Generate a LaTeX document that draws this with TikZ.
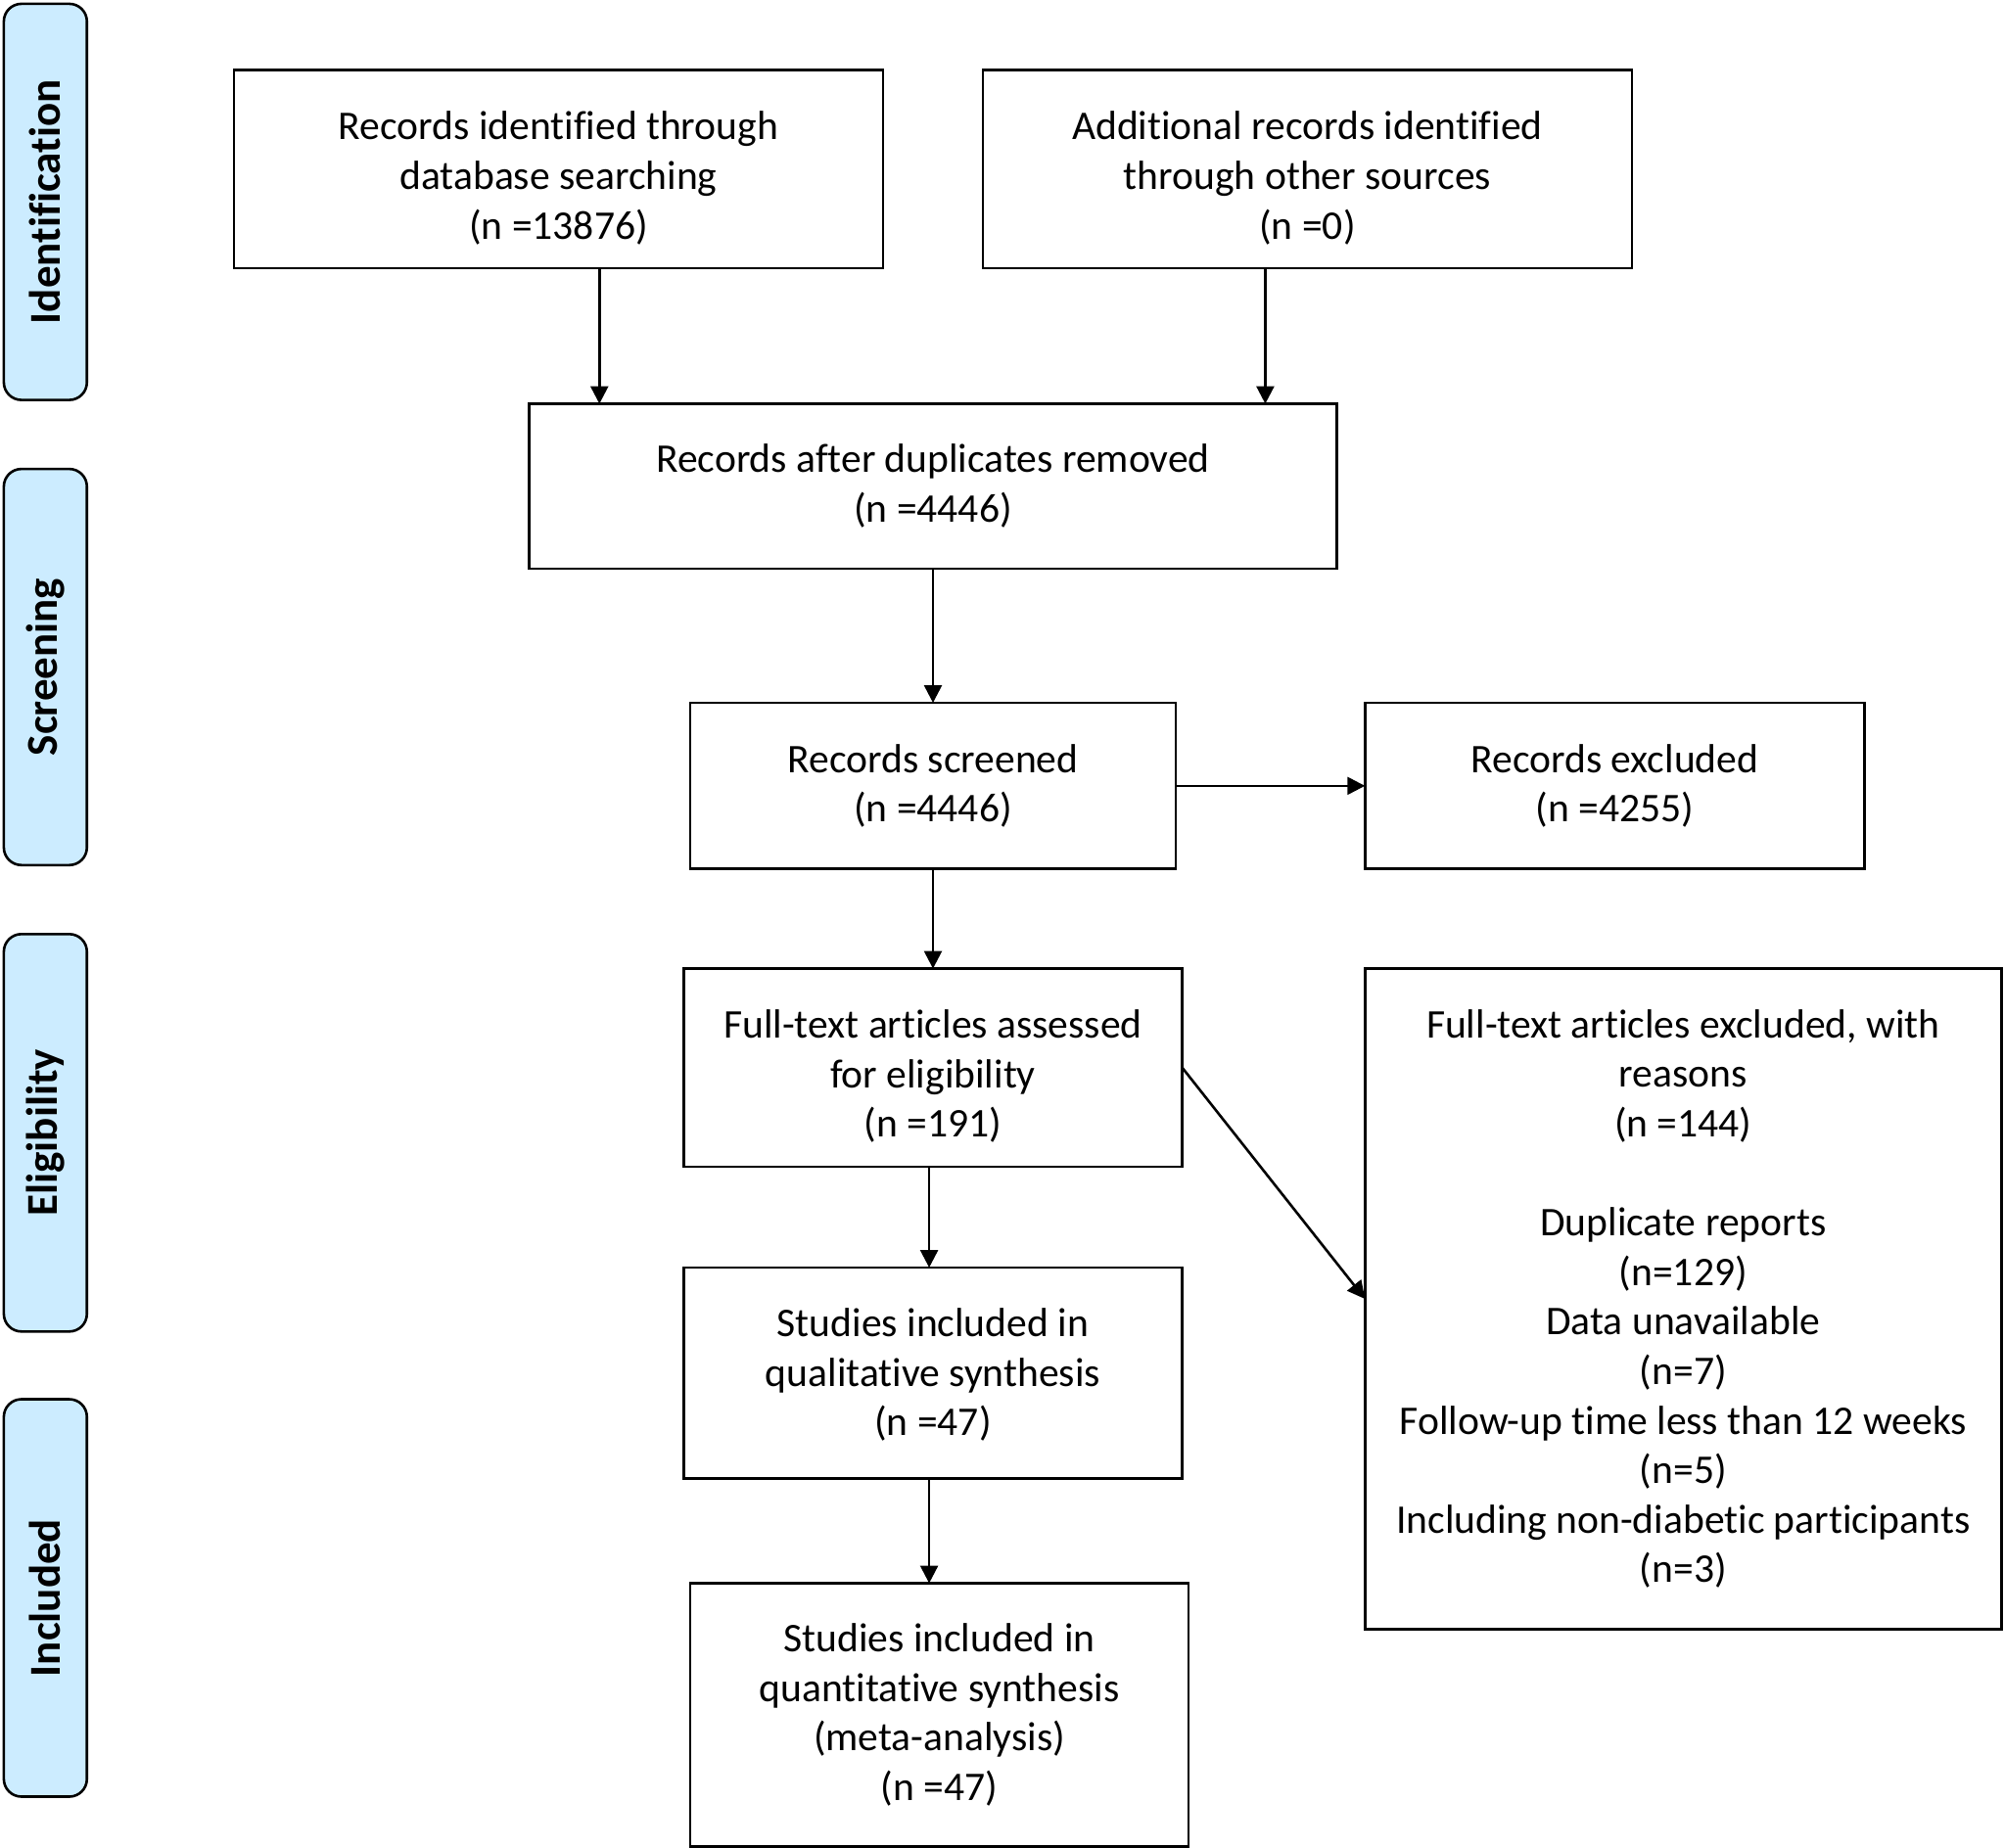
\documentclass[tikz,border=0pt]{standalone}
\usepackage{fontspec}
\setmainfont{Carlito}[Ligatures=NoCommon]
\usetikzlibrary{arrows.meta,fit}
\definecolor{sideblue}{RGB}{204,236,255}
\begin{document}
\begin{tikzpicture}[x=0.6528pt,y=-0.6528pt,
  box/.style={draw, line width=1.3pt, inner sep=0pt, outer sep=0pt},
  lbl/.style={align=center, inner sep=0pt,
    font=\fontsize{20.8}{25.3}\selectfont},
  side/.style={draw, line width=1.3pt, fill=sideblue, rounded corners=9pt, inner sep=0pt, outer sep=0pt},
  sidetext/.style={rotate=90, font=\bfseries\fontsize{22.5}{26}\selectfont},
  arr/.style={-{Triangle[length=9pt,width=9pt]}, line width=1.3pt}]
\useasboundingbox (0,0) rectangle (1568,1446);

% side phase boxes
\node[side, fit={(3,3) (68,313)}, label={[sidetext]center:Identification}] (s1) {};
\node[side, fit={(3,367) (68,677)}, label={[sidetext]center:Screening}] (s2) {};
\node[side, fit={(3,731) (68,1042)}, label={[sidetext]center:Eligibility}] (s3) {};
\node[side, fit={(3,1095) (68,1406)}, label={[sidetext]center:Included}] (s4) {};

% flow boxes
\node[box, fit={(183,55) (691,210)},
  label={[lbl, yshift=-4.5pt]center:{Records identified through\\database searching\\(n =13876)}}] (A) {};
\node[box, fit={(769,55) (1277,210)},
  label={[lbl, yshift=-4.5pt]center:{Additional records identified\\through other sources\\(n =0)}}] (B) {};
\node[box, fit={(414,316) (1046,445)},
  label={[lbl]center:{Records after duplicates removed\\(n =4446)}}] (C) {};
\node[box, fit={(540,550) (920,680)},
  label={[lbl]center:{Records screened\\(n =4446)}}] (D) {};
\node[box, fit={(1068,550) (1459,680)},
  label={[lbl]center:{Records excluded\\(n =4255)}}] (E) {};
\node[box, fit={(535,758) (925,913)},
  label={[lbl, yshift=-4.5pt]center:{Full-text articles assessed\\for eligibility\\(n =191)}}] (F) {};
\node[box, fit={(1068,758) (1566,1275)},
  label={[lbl]center:{Full-text articles excluded, with\\reasons\\(n =144)\\[25.3pt]Duplicate reports\\(n=129)\\Data unavailable\\(n=7)\\Follow-up time less than 12 weeks\\(n=5)\\Including non-diabetic participants\\(n=3)}}] (G) {};
\node[box, fit={(535,992) (925,1157)},
  label={[lbl, yshift=-1pt]center:{Studies included in\\qualitative synthesis\\(n =47)}}] (H) {};
\node[box, fit={(540,1239) (930,1445)},
  label={[lbl]center:{Studies included in\\quantitative synthesis\\(meta-analysis)\\(n =47)}}] (I) {};

% connectors
\coordinate (xa) at (469,0);
\coordinate (xb) at (990,0);
\coordinate (xc) at (730,0);
\coordinate (xf) at (727,0);
\draw[arr] (A.south -| xa) -- (C.north -| xa);
\draw[arr] (B.south -| xb) -- (C.north -| xb);
\draw[arr] (C.south -| xc) -- (D.north -| xc);
\draw[arr] (D.east) -- (E.west);
\draw[arr] (D.south -| xc) -- (F.north -| xc);
\draw[arr] (F.east) -- (G.west);
\draw[arr] (F.south -| xf) -- (H.north -| xf);
\draw[arr] (H.south -| xf) -- (I.north -| xf);
\end{tikzpicture}
\end{document}
